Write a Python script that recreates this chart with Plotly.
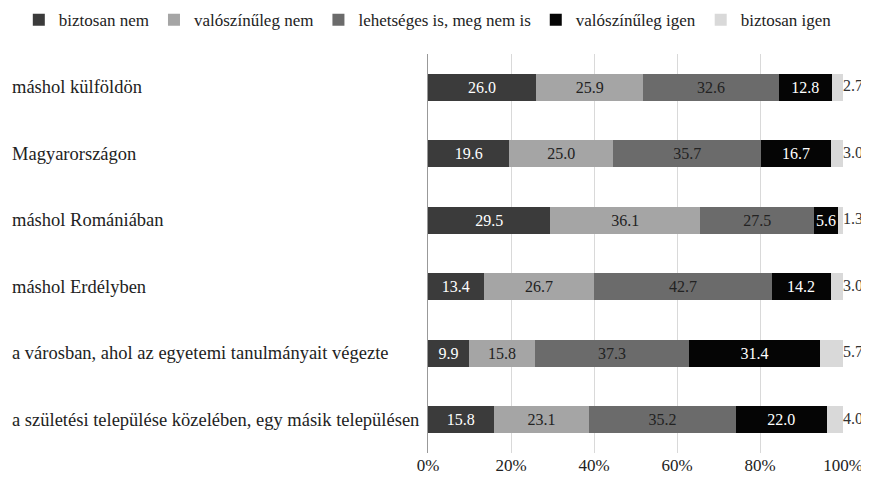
import plotly.graph_objects as go

categories = [
    "máshol külföldön",
    "Magyarországon",
    "máshol Romániában",
    "máshol Erdélyben",
    "a városban, ahol az egyetemi tanulmányait végezte",
    "a születési települése közelében, egy másik településen",
]
series_names = ["biztosan nem", "valószínűleg nem", "lehetséges is, meg nem is",
                "valószínűleg igen", "biztosan igen"]
biztosan_nem = [26.0, 19.6, 29.5, 13.4, 9.9, 15.8]
valoszinuleg_nem = [25.9, 25.0, 36.1, 26.7, 15.8, 23.1]
lehetseges = [32.6, 35.7, 27.5, 42.7, 37.3, 35.2]
valoszinuleg_igen = [12.8, 16.7, 5.6, 14.2, 31.4, 22.0]
biztosan_igen = [2.7, 3.0, 1.3, 3.0, 5.7, 4.0]
tick_vals = [0, 20, 40, 60, 80, 100]
tick_text = ["0%", "20%", "40%", "60%", "80%", "100%"]

series_values = [biztosan_nem, valoszinuleg_nem, lehetseges, valoszinuleg_igen, biztosan_igen]
colors = ["#3b3b3b", "#a5a5a5", "#6b6b6b", "#050505", "#d9d9d9"]
text_colors = ["white", "#222222", "#222222", "white", "#333333"]

FONT = "Liberation Serif, Times New Roman, serif"

fig = go.Figure()
for i, (name, vals) in enumerate(zip(series_names, series_values)):
    last = i == len(series_names) - 1
    fig.add_trace(go.Bar(
        y=categories, x=vals, name=name, orientation="h",
        marker=dict(color=colors[i], line=dict(width=0)),
        text=None if last else [f"{v:.1f}" for v in vals],
        textposition="inside",
        insidetextanchor="middle",
        textangle=0,
        textfont=dict(color=text_colors[i], size=16, family=FONT),
        constraintext="none",
    ))

# labels of the last (thin) segment, placed just right of each stack
totals = [min(sum(s[k] for s in series_values), 100.0) for k in range(len(categories))]
fig.add_trace(go.Scatter(
    x=totals, y=categories, mode="text",
    text=[f"{v:.1f}" for v in biztosan_igen],
    textposition="middle right",
    textfont=dict(color="#333333", size=16, family=FONT),
    showlegend=False, hoverinfo="skip", cliponaxis=False,
))

for c in categories:
    fig.add_annotation(x=0, xref="paper", xshift=-418, y=c, yref="y",
                       text=c, showarrow=False, xanchor="left",
                       font=dict(size=18.5, family=FONT, color="#222222"))

fig.update_layout(
    barmode="stack",
    width=869, height=481,
    margin=dict(l=420, r=34, t=46, b=36, autoexpand=False),
    plot_bgcolor="white", paper_bgcolor="white",
    bargap=0.6,
    uniformtext=dict(minsize=16, mode="show"),
    legend=dict(orientation="h", x=-0.986, xref="paper", xanchor="left",
                y=1.13, yref="paper", yanchor="top",
                font=dict(size=17, family=FONT, color="#222222"),
                traceorder="normal", itemwidth=30, tracegroupgap=0),
    font=dict(family=FONT, size=16, color="#222222"),
)
fig.update_xaxes(range=[0, 100], tickvals=tick_vals, ticktext=tick_text,
                 showgrid=True, gridcolor="#d9d9d9", gridwidth=1, zeroline=False,
                 tickfont=dict(size=17, family=FONT, color="#222222"))
fig.update_yaxes(autorange="reversed", showticklabels=False, showline=True,
                 linecolor="#999999", linewidth=1, ticks="")

fig.write_html("out.html")
